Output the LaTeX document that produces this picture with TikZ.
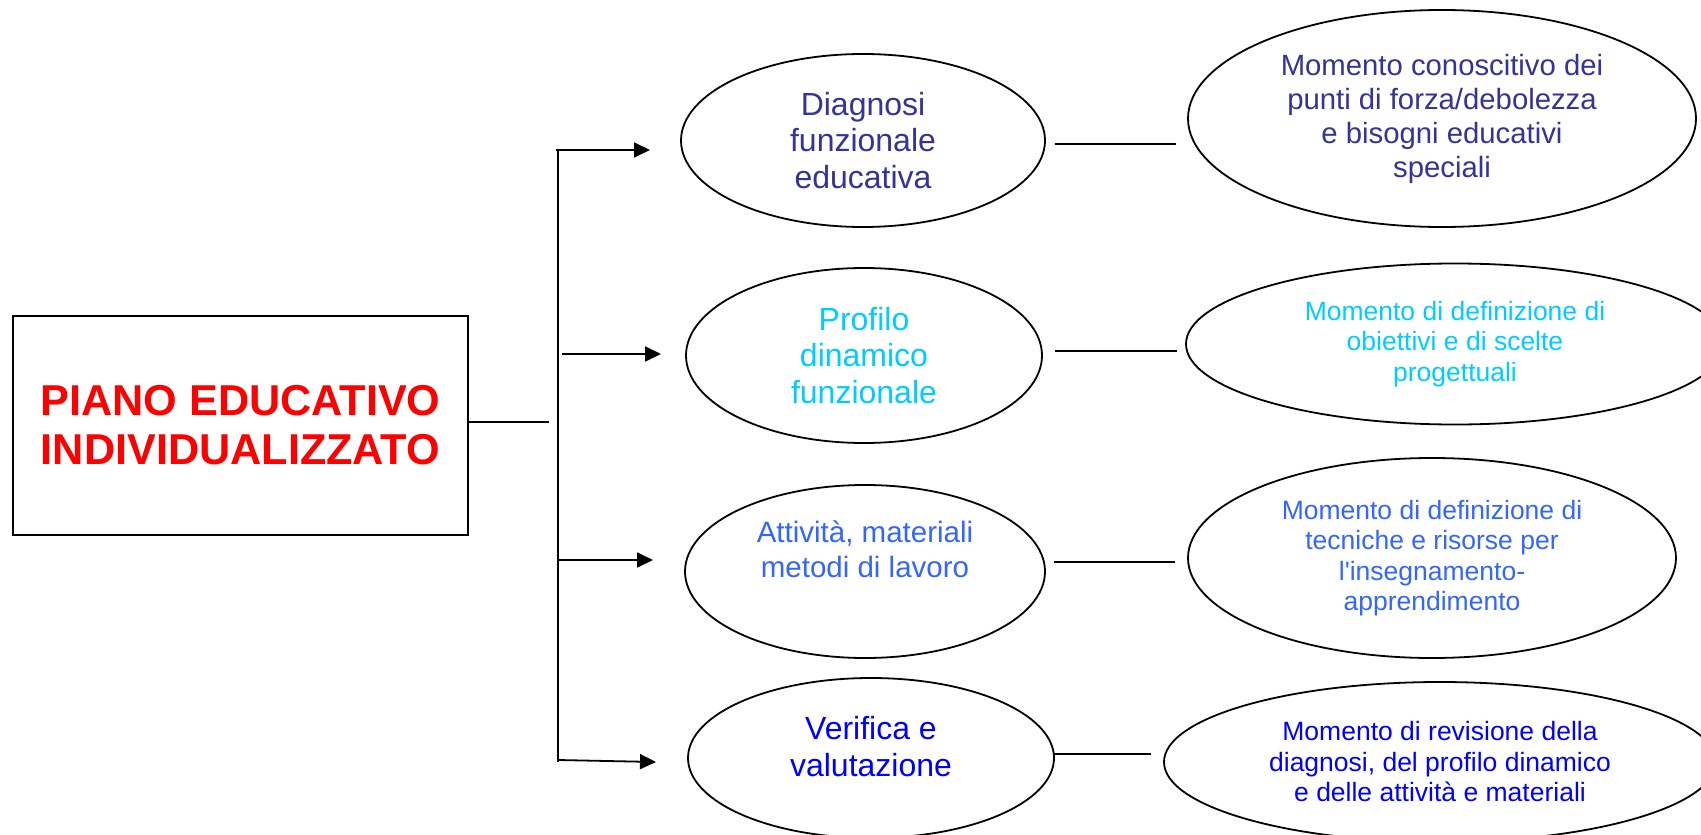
\documentclass[tikz,border=0pt]{standalone}
\usepackage{fontspec}
\setmainfont{Liberation Sans}[Ligatures=TeXOff]
\usetikzlibrary{arrows.meta,shapes.geometric}
\definecolor{cA}{RGB}{51,51,153}
\definecolor{cB}{RGB}{0,204,255}
\definecolor{cC}{RGB}{51,102,255}
\definecolor{cD}{RGB}{0,0,255}
\definecolor{cR}{RGB}{255,0,0}
\tikzset{
  ell/.style={draw=black, line width=1.8pt, ellipse, inner sep=0pt, align=center},
  titlebox/.style={draw=black, line width=1.8pt, rectangle, inner sep=0pt, align=center},
  conn/.style={draw=black, line width=1.8pt},
  arr/.style={draw=black, line width=1.8pt, -{Triangle[length=16pt,width=15pt]}},
  midf/.style={font=\fontsize{32}{36.5}\selectfont},
  midg/.style={font=\fontsize{29.5}{35}\selectfont},
  rgtA/.style={font=\fontsize{29.3}{34}\selectfont},
  rgtB/.style={font=\fontsize{26.5}{30.5}\selectfont},
}
\begin{document}
\begin{tikzpicture}[x=1pt,y=-1pt]
\useasboundingbox[fill=white] (0,0) rectangle (1701,835);
% title box
\node[titlebox, minimum width=455pt, minimum height=219pt, text=cR,
      font=\bfseries\fontsize{43.2}{49}\selectfont] (piano) at (240.5,425.5)
      {PIANO EDUCATIVO\\INDIVIDUALIZZATO};
% middle ellipses
\node[ell, midf, text=cA, minimum width=364pt, minimum height=173pt] (e1) at (863,140.5)
      {Diagnosi\\funzionale\\educativa};
\node[ell, midf, text=cB, minimum width=356pt, minimum height=175pt] (e2) at (864,355.5)
      {Profilo\\dinamico\\funzionale};
\node[ell, midg, text=cC, minimum width=360pt, minimum height=173pt] (e3) at (865,571.5)
      {Attività, materiali\\metodi di lavoro\\\strut};
\node[ell, midf, text=cD, minimum width=366pt, minimum height=160pt] (e4) at (871,758)
      {Verifica e\\valutazione\\[-24pt]\strut};
% right ellipses
\node[ell, rgtA, text=cA, minimum width=508pt, minimum height=217pt] (r1) at (1442,118.5)
      {Momento conoscitivo dei\\punti di forza/debolezza\\e bisogni educativi\\speciali};
\node[ell, rgtB, text=cB, minimum width=538pt, minimum height=161pt] (r2) at (1455,344)
      {Momento di definizione di\\obiettivi e di scelte\\progettuali};
\node[ell, rgtB, text=cC, minimum width=488pt, minimum height=200pt] (r3) at (1432,558)
      {Momento di definizione di\\tecniche e risorse per\\l'insegnamento-\\apprendimento};
\node[ell, rgtB, text=cD, minimum width=552pt, minimum height=160pt] (r4) at (1440,762)
      {Momento di revisione della\\diagnosi, del profilo dinamico\\e delle attività e materiali};
% connector coordinates
\coordinate (p0) at (468,422);
\coordinate (p1) at (549,422);
\coordinate (ttop) at (558,150);
\coordinate (tbot) at (558,762);
\coordinate (a1s) at (556,150);
\coordinate (a1e) at (650,150);
\coordinate (a2s) at (562,354);
\coordinate (a2e) at (661,354);
\coordinate (a3s) at (558,560);
\coordinate (a3e) at (653,560);
\coordinate (a4s) at (558,760);
\coordinate (a4e) at (656,762);
\coordinate (l1s) at (1055,144);
\coordinate (l1e) at (1176,144);
\coordinate (l2s) at (1055,351);
\coordinate (l2e) at (1177,351);
\coordinate (l3s) at (1054,562);
\coordinate (l3e) at (1175,562);
\coordinate (l4s) at (1054,754);
\coordinate (l4e) at (1151,754);
% connectors
\draw[conn] (p0) -- (p1);
\draw[conn] (ttop) -- (tbot);
\draw[arr] (a1s) -- (a1e);
\draw[arr] (a2s) -- (a2e);
\draw[arr] (a3s) -- (a3e);
\draw[arr] (a4s) -- (a4e);
\draw[conn] (l1s) -- (l1e);
\draw[conn] (l2s) -- (l2e);
\draw[conn] (l3s) -- (l3e);
\draw[conn] (l4s) -- (l4e);
\end{tikzpicture}
\end{document}
